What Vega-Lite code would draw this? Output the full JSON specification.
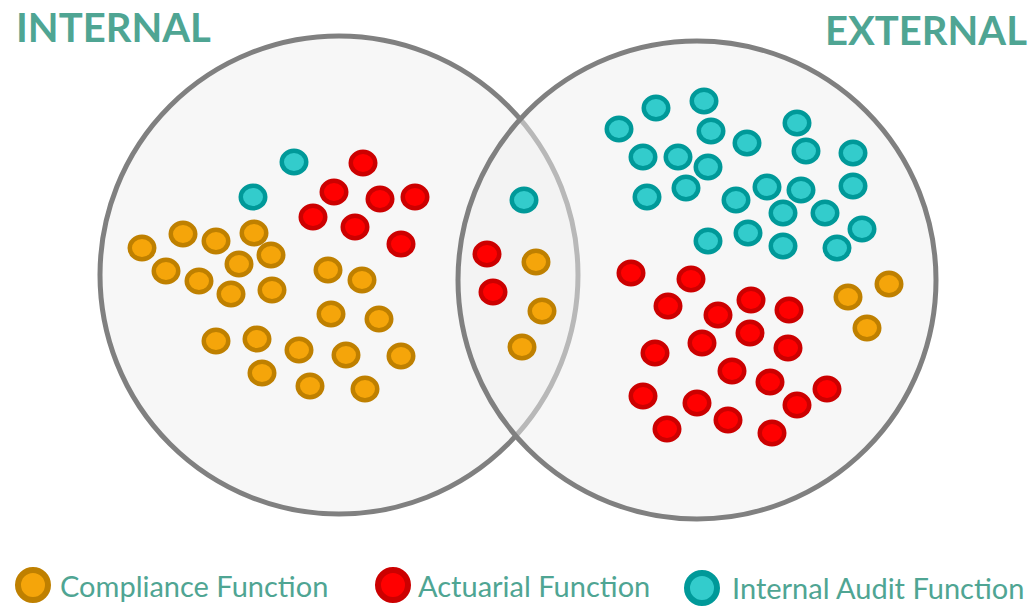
{
  "$schema": "https://vega.github.io/schema/vega-lite/v6.json",
  "width": 1034,
  "height": 606,
  "autosize": {"type": "none"},
  "padding": 0,
  "background": "white",
  "config": {"view": {"stroke": null}},
  "datasets": {
    "circles": [
      {"name": "INTERNAL", "x": 339, "y": 275},
      {"name": "EXTERNAL", "x": 697, "y": 280}
    ],
    "dots": [
      {"fn": "Internal Audit Function", "x": 294, "y": 162},
      {"fn": "Internal Audit Function", "x": 253, "y": 197},
      {"fn": "Actuarial Function", "x": 363, "y": 163},
      {"fn": "Actuarial Function", "x": 334, "y": 192},
      {"fn": "Actuarial Function", "x": 380, "y": 199},
      {"fn": "Actuarial Function", "x": 415, "y": 197},
      {"fn": "Actuarial Function", "x": 313, "y": 217},
      {"fn": "Actuarial Function", "x": 355, "y": 227},
      {"fn": "Actuarial Function", "x": 401, "y": 244},
      {"fn": "Compliance Function", "x": 142, "y": 248},
      {"fn": "Compliance Function", "x": 183, "y": 234},
      {"fn": "Compliance Function", "x": 216, "y": 241},
      {"fn": "Compliance Function", "x": 254, "y": 233},
      {"fn": "Compliance Function", "x": 166, "y": 271},
      {"fn": "Compliance Function", "x": 239, "y": 264},
      {"fn": "Compliance Function", "x": 271, "y": 255},
      {"fn": "Compliance Function", "x": 199, "y": 281},
      {"fn": "Compliance Function", "x": 231, "y": 294},
      {"fn": "Compliance Function", "x": 272, "y": 290},
      {"fn": "Compliance Function", "x": 328, "y": 270},
      {"fn": "Compliance Function", "x": 362, "y": 280},
      {"fn": "Compliance Function", "x": 331, "y": 314},
      {"fn": "Compliance Function", "x": 379, "y": 319},
      {"fn": "Compliance Function", "x": 216, "y": 341},
      {"fn": "Compliance Function", "x": 257, "y": 339},
      {"fn": "Compliance Function", "x": 299, "y": 350},
      {"fn": "Compliance Function", "x": 346, "y": 355},
      {"fn": "Compliance Function", "x": 401, "y": 356},
      {"fn": "Compliance Function", "x": 262, "y": 373},
      {"fn": "Compliance Function", "x": 310, "y": 386},
      {"fn": "Compliance Function", "x": 365, "y": 389},
      {"fn": "Internal Audit Function", "x": 524, "y": 200},
      {"fn": "Actuarial Function", "x": 487, "y": 254},
      {"fn": "Actuarial Function", "x": 493, "y": 292},
      {"fn": "Compliance Function", "x": 536, "y": 262},
      {"fn": "Compliance Function", "x": 542, "y": 311},
      {"fn": "Compliance Function", "x": 522, "y": 347},
      {"fn": "Internal Audit Function", "x": 619, "y": 129},
      {"fn": "Internal Audit Function", "x": 656, "y": 108},
      {"fn": "Internal Audit Function", "x": 704, "y": 101},
      {"fn": "Internal Audit Function", "x": 711, "y": 131},
      {"fn": "Internal Audit Function", "x": 747, "y": 143},
      {"fn": "Internal Audit Function", "x": 797, "y": 123},
      {"fn": "Internal Audit Function", "x": 643, "y": 157},
      {"fn": "Internal Audit Function", "x": 678, "y": 157},
      {"fn": "Internal Audit Function", "x": 708, "y": 167},
      {"fn": "Internal Audit Function", "x": 806, "y": 151},
      {"fn": "Internal Audit Function", "x": 853, "y": 153},
      {"fn": "Internal Audit Function", "x": 647, "y": 197},
      {"fn": "Internal Audit Function", "x": 686, "y": 188},
      {"fn": "Internal Audit Function", "x": 736, "y": 200},
      {"fn": "Internal Audit Function", "x": 767, "y": 187},
      {"fn": "Internal Audit Function", "x": 801, "y": 190},
      {"fn": "Internal Audit Function", "x": 853, "y": 186},
      {"fn": "Internal Audit Function", "x": 783, "y": 213},
      {"fn": "Internal Audit Function", "x": 825, "y": 213},
      {"fn": "Internal Audit Function", "x": 708, "y": 241},
      {"fn": "Internal Audit Function", "x": 748, "y": 233},
      {"fn": "Internal Audit Function", "x": 783, "y": 246},
      {"fn": "Internal Audit Function", "x": 837, "y": 248},
      {"fn": "Internal Audit Function", "x": 862, "y": 229},
      {"fn": "Actuarial Function", "x": 631, "y": 273},
      {"fn": "Actuarial Function", "x": 691, "y": 279},
      {"fn": "Actuarial Function", "x": 668, "y": 306},
      {"fn": "Actuarial Function", "x": 718, "y": 315},
      {"fn": "Actuarial Function", "x": 751, "y": 300},
      {"fn": "Actuarial Function", "x": 789, "y": 310},
      {"fn": "Actuarial Function", "x": 750, "y": 333},
      {"fn": "Actuarial Function", "x": 702, "y": 343},
      {"fn": "Actuarial Function", "x": 788, "y": 348},
      {"fn": "Actuarial Function", "x": 655, "y": 353},
      {"fn": "Actuarial Function", "x": 732, "y": 371},
      {"fn": "Actuarial Function", "x": 770, "y": 382},
      {"fn": "Actuarial Function", "x": 827, "y": 389},
      {"fn": "Actuarial Function", "x": 797, "y": 405},
      {"fn": "Actuarial Function", "x": 643, "y": 396},
      {"fn": "Actuarial Function", "x": 697, "y": 403},
      {"fn": "Actuarial Function", "x": 728, "y": 420},
      {"fn": "Actuarial Function", "x": 772, "y": 433},
      {"fn": "Actuarial Function", "x": 667, "y": 429},
      {"fn": "Compliance Function", "x": 848, "y": 297},
      {"fn": "Compliance Function", "x": 889, "y": 284},
      {"fn": "Compliance Function", "x": 867, "y": 328}
    ],
    "legend": [
      {"fn": "Compliance Function", "x": 33, "y": 585, "tx": 60, "ty": 597},
      {"fn": "Actuarial Function", "x": 393, "y": 585, "tx": 418, "ty": 597},
      {"fn": "Internal Audit Function", "x": 702, "y": 588, "tx": 732, "ty": 599}
    ],
    "titles": [
      {"label": "INTERNAL", "x": 16, "y": 42},
      {"label": "EXTERNAL", "x": 825, "y": 45}
    ]
  },
  "layer": [
    {
      "data": {"name": "circles"},
      "mark": {"type": "point", "shape": "circle", "size": 228484, "filled": true, "fill": "#F0F0F0", "fillOpacity": 0.5, "stroke": "#808080", "strokeWidth": 5, "opacity": 1},
      "encoding": {
        "x": {"field": "x", "type": "quantitative", "scale": {"domain": [0, 1034], "nice": false, "zero": false}, "axis": null},
        "y": {"field": "y", "type": "quantitative", "scale": {"domain": [0, 606], "reverse": true, "nice": false, "zero": false}, "axis": null}
      }
    },
    {
      "data": {"name": "dots"},
      "mark": {"type": "point", "shape": "M-1,0A1,0.92,0,1,0,1,0A1,0.92,0,1,0,-1,0Z", "size": 600, "filled": true, "strokeWidth": 4.5, "opacity": 1},
      "encoding": {
        "x": {"field": "x", "type": "quantitative"},
        "y": {"field": "y", "type": "quantitative"},
        "fill": {"field": "fn", "type": "nominal", "scale": {"domain": ["Compliance Function", "Actuarial Function", "Internal Audit Function"], "range": ["#F5A50A", "#FF0000", "#33CCCC"]}, "legend": null},
        "stroke": {"field": "fn", "type": "nominal", "scale": {"domain": ["Compliance Function", "Actuarial Function", "Internal Audit Function"], "range": ["#BF8000", "#CC0000", "#009999"]}, "legend": null}
      }
    },
    {
      "data": {"name": "legend"},
      "mark": {"type": "point", "shape": "circle", "size": 900, "filled": true, "strokeWidth": 6, "opacity": 1},
      "encoding": {
        "x": {"field": "x", "type": "quantitative"},
        "y": {"field": "y", "type": "quantitative"},
        "fill": {"field": "fn", "type": "nominal", "legend": null},
        "stroke": {"field": "fn", "type": "nominal", "legend": null}
      }
    },
    {
      "data": {"name": "legend"},
      "mark": {"type": "text", "align": "left", "baseline": "alphabetic", "font": "Lato", "fontSize": 29, "color": "#4FA593"},
      "encoding": {
        "x": {"field": "tx", "type": "quantitative"},
        "y": {"field": "ty", "type": "quantitative"},
        "text": {"field": "fn"}
      }
    },
    {
      "data": {"name": "titles"},
      "mark": {"type": "text", "align": "left", "baseline": "alphabetic", "font": "Lato", "fontSize": 40, "fontWeight": "bold", "color": "#4FA593"},
      "encoding": {
        "x": {"field": "x", "type": "quantitative"},
        "y": {"field": "y", "type": "quantitative"},
        "text": {"field": "label"}
      }
    }
  ]
}
